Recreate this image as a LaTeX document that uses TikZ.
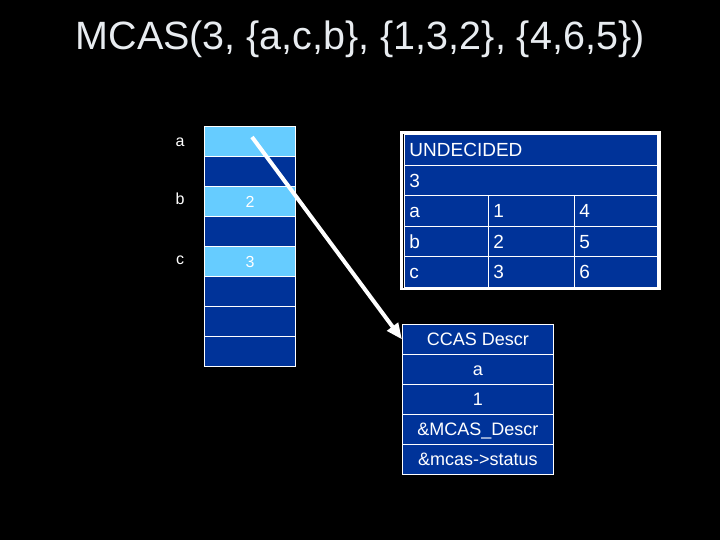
\documentclass[tikz,border=0pt]{standalone}
\usepackage{fontspec}
\setmainfont{Liberation Sans}
\usetikzlibrary{arrows.meta,calc}
\definecolor{dblue}{RGB}{0,51,153}
\definecolor{lblue}{RGB}{102,204,255}
\definecolor{titlec}{RGB}{232,236,240}
\begin{document}
\begin{tikzpicture}[x=1pt,y=-1pt,
  lcell/.style={draw=white, line width=0.9pt, fill=dblue, minimum width=91pt, minimum height=30pt,
    inner sep=0pt, anchor=north west, text=white, text height=11.5pt, text depth=0pt,
    font=\fontsize{16}{16}\selectfont},
  lab/.style={text=white, anchor=base, inner sep=0pt, font=\fontsize{16}{16}\selectfont},
  rcell/.style={draw=white, line width=0.9pt, fill=dblue, minimum height=30.6pt, inner xsep=5pt,
    inner ysep=0pt, anchor=north west, text=white, align=left, text height=13.6pt, text depth=0pt,
    font=\fontsize{19}{19}\selectfont},
  bcell/.style={draw=white, line width=0.9pt, fill=dblue, minimum width=151pt, minimum height=30pt,
    inner sep=0pt, anchor=north west, text=white, text height=12.9pt, text depth=0pt,
    font=\fontsize{18}{18}\selectfont},
  frame/.style={draw=white, line width=2.5pt},
  ptrarrow/.style={draw=white, line width=4pt, -{Triangle[length=16pt,width=13pt]}}]
\fill[black] (0,0) rectangle (720,540);
\useasboundingbox (0,0) rectangle (720,540);

% title
\node[text=titlec, anchor=base, inner sep=0pt, font=\fontsize{39.5}{40}\selectfont] (title) at (360,50)
  {MCAS(3, \{a,c,b\}, \{1,3,2\}, \{4,6,5\})};

% left column
\node[lcell, fill=lblue] (l1) at (204,126) {};
\node[lcell] (l2) at (204,156) {};
\node[lcell, fill=lblue] (l3) at (204,186) {2};
\node[lcell] (l4) at (204,216) {};
\node[lcell, fill=lblue] (l5) at (204,246) {3};
\node[lcell] (l6) at (204,276) {};
\node[lcell] (l7) at (204,306) {};
\node[lcell] (l8) at (204,336) {};
\node[lab] (la) at (180,147) {a};
\node[lab] (lb) at (180,205) {b};
\node[lab] (lc) at (180,264) {c};

% right table
\node[rcell, text width=243pt] (r1) at (404,134) {UNDECIDED};
\node[rcell, text width=243pt] (r2) at (404,164.6) {3};
\node[rcell, text width=74pt] (r3a) at (404,195.2) {a};
\node[rcell, text width=76pt] (r3b) at (488,195.2) {1};
\node[rcell, text width=73pt] (r3c) at (574,195.2) {4};
\node[rcell, text width=74pt] (r4a) at (404,225.8) {b};
\node[rcell, text width=76pt] (r4b) at (488,225.8) {2};
\node[rcell, text width=73pt] (r4c) at (574,225.8) {5};
\node[rcell, text width=74pt] (r5a) at (404,256.4) {c};
\node[rcell, text width=76pt] (r5b) at (488,256.4) {3};
\node[rcell, text width=73pt] (r5c) at (574,256.4) {6};
\draw[frame] ($(r1.north west)+(-2.5,-1.5)$) rectangle ($(r5c.south east)+(1.5,1)$);

% bottom table
\node[bcell] (c1) at (402,324) {CCAS Descr};
\node[bcell] (c2) at (402,354) {a};
\node[bcell] (c3) at (402,384) {1};
\node[bcell] (c4) at (402,414) {\&MCAS\_Descr};
\node[bcell] (c5) at (402,444) {\&mcas->status};

% pointer
\coordinate (ptr) at (252,137);
\draw[ptrarrow] (ptr) -- (c1.west);
\end{tikzpicture}
\end{document}
